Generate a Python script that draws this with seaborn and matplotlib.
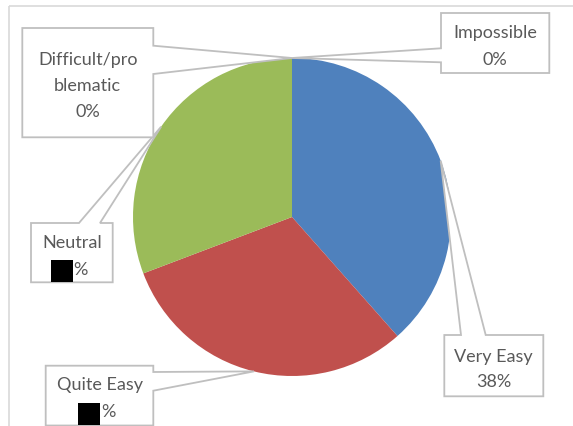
import numpy as np
import matplotlib
matplotlib.use("Agg")
import matplotlib.pyplot as plt
from matplotlib.patches import Polygon, Rectangle
import seaborn as sns

# data
labels = ["Very Easy", "Quite Easy", "Neutral", "Difficult/problematic", "Impossible"]
counts = [5, 4, 4, 0, 0]
colors = ["#4F81BD", "#C0504D", "#9BBB59", "#8064A2", "#4BACC6"]
label_lines = [["Very Easy", "38%"], ["Quite Easy", None], ["Neutral", None],
               ["Difficult/pro", "blematic", "0%"], ["Impossible", "0%"]]

sns.set_style("white")
plt.rcParams["font.family"] = ["Lato", "DejaVu Sans"]

fig = plt.figure(figsize=(5.73, 4.27), dpi=100)
ax = fig.add_axes([0, 0, 1, 1])

# chart border
ax.add_patch(Rectangle((9, 6.5), 600, 500, fill=False, ec="#D9D9D9", lw=1.2, zorder=0))

cx, cy, r = 292, 218, 159
wedges, _ = ax.pie(counts, colors=colors, startangle=-90, counterclock=True,
                   center=(cx, cy), radius=r, frame=True,
                   wedgeprops=dict(linewidth=0))
ax.set_xlim(0, 573)
ax.set_ylim(427, 0)
ax.set_aspect("equal")
ax.axis("off")

def tip(w):
    a = np.deg2rad((w.theta1 + w.theta2) / 2)
    return (cx + r * np.cos(a), cy + r * np.sin(a))

# callout boxes: (x0, y0, x1, y1), side of pointer, pointer base span
boxes = [
    ((444.3, 336, 543.3, 397.3), "top", (461, 485.7)),
    ((45.7, 366.7, 153.3, 426.5), "right", (373, 391.7)),
    ((31, 224, 112.7, 283.3), "top", (79, 100)),
    ((22.3, 29, 153.3, 138.3), "right", (46.7, 75)),
    ((441, 14, 549.3, 74), "left", (49.3, 63.3)),
]
text_y = [[357, 382], [385, 412], [243, 270], [60, 86, 112], [33, 60]]
masks = [None, (77.7, 404, 22.3, 22), (50.7, 261, 22, 22), None, None]

for w, (b, side, span), lines, ys, m in zip(wedges, boxes, label_lines, text_y, masks):
    x0, y0, x1, y1 = b
    t = tip(w)
    if side == "top":
        pts = [(x0, y0), (span[0], y0), t, (span[1], y0), (x1, y0), (x1, y1), (x0, y1)]
    elif side == "right":
        pts = [(x0, y0), (x1, y0), (x1, span[0]), t, (x1, span[1]), (x1, y1), (x0, y1)]
    else:
        pts = [(x0, y0), (x1, y0), (x1, y1), (x0, y1), (x0, span[1]), t, (x0, span[0])]
    ax.add_patch(Polygon(pts, closed=True, fc="white", ec="#BFBFBF", lw=1.3, zorder=5))
    xc = (x0 + x1) / 2
    for line, y in zip(lines, ys):
        if line is None:
            continue
        ax.text(xc, y, line, ha="center", va="center", fontsize=13,
                color="#595959", zorder=6)
    if m is not None:
        mx, my, mw, mh = m
        ax.add_patch(Rectangle((mx, my), mw, mh, fc="black", ec="none", zorder=7))
        ax.text(mx + mw + 1, ys[1], "%", ha="left", va="center", fontsize=13,
                color="#595959", zorder=6)

fig.savefig("out.png", dpi=100)
